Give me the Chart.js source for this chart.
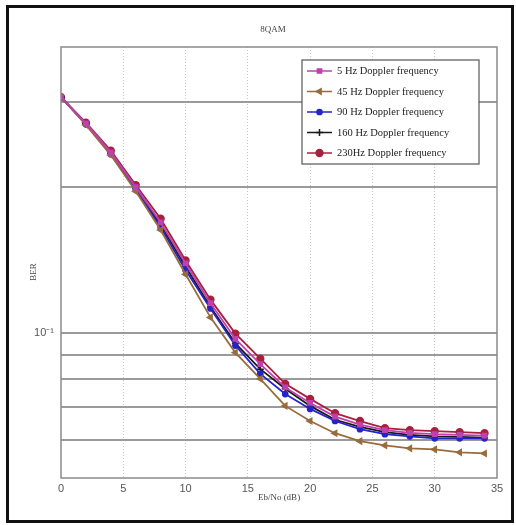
<!DOCTYPE html>
<html>
<head>
<meta charset="utf-8">
<script src="https://cdn.jsdelivr.net/npm/chart.js@4.4.1/dist/chart.umd.min.js"></script>
<style>
  body { margin: 0; background: #fff; }
  #wrap { position: relative; width: 516px; height: 525px; }
  #frame { position: absolute; left: 6px; top: 5px; width: 502px; height: 512px; border: 3px solid #111; pointer-events: none; }
  canvas { position: absolute; left: 0; top: 0; }
</style>
</head>
<body>
<div id="wrap">
  <canvas id="chart" width="516" height="525"></canvas>
  <div id="frame"></div>
</div>
<script>
// Eb/No in dB
const ebno = [0, 2, 4, 6, 8, 10, 12, 14, 16, 18, 20, 22, 24, 26, 28, 30, 32, 34];

const ber5Hz   = [0.307, 0.271, 0.236, 0.200, 0.169, 0.139, 0.115, 0.097, 0.086, 0.077, 0.0715, 0.067, 0.0645, 0.0628, 0.062, 0.0616, 0.0614, 0.0612];
const ber45Hz  = [0.307, 0.269, 0.233, 0.196, 0.163, 0.132, 0.1075, 0.0909, 0.0802, 0.0705, 0.0656, 0.0619, 0.0596, 0.0584, 0.0576, 0.0573, 0.0565, 0.0562];
const ber90Hz  = [0.307, 0.270, 0.234, 0.198, 0.165, 0.1347, 0.1122, 0.094, 0.0821, 0.0746, 0.0695, 0.0656, 0.0631, 0.0616, 0.061, 0.0604, 0.0604, 0.0604];
const ber160Hz = [0.307, 0.270, 0.235, 0.199, 0.167, 0.137, 0.113, 0.095, 0.084, 0.0765, 0.0705, 0.066, 0.0638, 0.0622, 0.0614, 0.061, 0.0608, 0.0606];
const ber230Hz = [0.307, 0.272, 0.238, 0.202, 0.172, 0.141, 0.117, 0.0995, 0.0883, 0.0783, 0.0729, 0.0681, 0.0656, 0.0634, 0.0628, 0.0625, 0.0622, 0.0619];

const seriesLabels = ['5 Hz Doppler frequency', '45 Hz Doppler frequency', '90 Hz Doppler frequency', '160 Hz Doppler frequency', '230Hz Doppler frequency'];
const xTicks = [0, 5, 10, 15, 20, 25, 30, 35];
const yGrid = [0.05, 0.06, 0.07, 0.08, 0.09, 0.1, 0.2, 0.3, 0.39];

const toPoints = (vals) => vals.map((v, i) => ({ x: ebno[i], y: v }));

const makeSet = (label, vals, color, style, rot, radius) => ({
  label: label,
  data: toPoints(vals),
  borderColor: color,
  backgroundColor: color,
  borderWidth: 1.8,
  pointStyle: style,
  pointRotation: rot,
  pointRadius: radius,
  pointBorderWidth: 1.5,
  tension: 0,
});

// legend + titles + plot box, drawn on the canvas
const extras = {
  id: 'extras',
  afterDraw(chart) {
    const ctx = chart.ctx;
    const a = chart.chartArea;
    ctx.save();
    ctx.strokeStyle = '#8a8a8a';
    ctx.lineWidth = 1.5;
    ctx.strokeRect(a.left, a.top, a.right - a.left, a.bottom - a.top);

    ctx.fillStyle = '#444';
    ctx.textAlign = 'center';
    ctx.textBaseline = 'middle';
    ctx.font = '9px "Liberation Serif", serif';
    ctx.fillText('8QAM', 273, 30);
    ctx.fillText('Eb/No (dB)', (a.left + a.right) / 2, 498);
    ctx.save();
    ctx.translate(34, 272);
    ctx.rotate(-Math.PI / 2);
    ctx.fillText('BER', 0, 0);
    ctx.restore();

    // legend box
    const lx = 302, ly = 60, lw = 177, lh = 104;
    ctx.fillStyle = '#fff';
    ctx.fillRect(lx, ly, lw, lh);
    ctx.strokeStyle = '#555';
    ctx.lineWidth = 1.2;
    ctx.strokeRect(lx, ly, lw, lh);
    ctx.font = '10.5px "Liberation Serif", serif';
    ctx.textAlign = 'left';
    chart.data.datasets.forEach((ds, i) => {
      const y = ly + 11 + i * 20.5;
      ctx.strokeStyle = ds.borderColor;
      ctx.lineWidth = 1.5;
      ctx.beginPath();
      ctx.moveTo(lx + 5, y);
      ctx.lineTo(lx + 30, y);
      ctx.stroke();
      ctx.fillStyle = ds.backgroundColor;
      Chart.helpers.drawPoint(ctx, {
        pointStyle: ds.pointStyle, rotation: ds.pointRotation,
        radius: ds.pointRadius, borderWidth: 1.5
      }, lx + 17.5, y);
      ctx.fillStyle = '#222';
      ctx.fillText(ds.label, lx + 35, y + 0.5);
    });
    ctx.restore();
  }
};

new Chart(document.getElementById('chart'), {
  type: 'line',
  data: {
    datasets: [
      makeSet(seriesLabels[0], ber5Hz, '#c040b0', 'rect', 0, 3),
      makeSet(seriesLabels[1], ber45Hz, '#9a6b3c', 'triangle', -90, 3.2),
      makeSet(seriesLabels[2], ber90Hz, '#2424c8', 'circle', 0, 2.6),
      makeSet(seriesLabels[3], ber160Hz, '#1a1a1a', 'cross', 0, 3.5),
      makeSet(seriesLabels[4], ber230Hz, '#a8203c', 'circle', 0, 3.4),
    ]
  },
  options: {
    responsive: false,
    animation: false,
    layout: { padding: { top: 47, right: 19, left: 0, bottom: 0 } },
    plugins: { legend: { display: false }, title: { display: false }, tooltip: { enabled: false } },
    scales: {
      x: {
        type: 'linear',
        min: 0,
        max: 35,
        afterBuildTicks: (s) => { s.ticks = xTicks.map(v => ({ value: v })); },
        afterFit: (s) => { s.height = 47; },
        ticks: { color: '#555', font: { size: 11, family: 'Liberation Sans' }, padding: 4, maxRotation: 0 },
        grid: {
          drawTicks: false,
          color: (c) => (c.tick.value === 0 || c.tick.value === 35) ? 'rgba(0,0,0,0)' : '#c8c8c8',
          lineWidth: 1,
        },
        border: { display: false, dash: [1, 2] },
      },
      y: {
        type: 'logarithmic',
        min: 0.05,
        max: 0.39,
        afterBuildTicks: (s) => { s.ticks = yGrid.map(v => ({ value: v })); },
        afterFit: (s) => { s.width = 61; },
        ticks: {
          color: '#555',
          font: { size: 11, family: 'Liberation Sans' },
          padding: 7,
          callback: (v) => Math.abs(v - 0.1) < 1e-9 ? '10\u207B\u00B9' : '',
        },
        grid: {
          drawTicks: false,
          color: (c) => (c.tick.value === 0.05 || c.tick.value === 0.39) ? 'rgba(0,0,0,0)' : '#9a9a9a',
          lineWidth: 2,
        },
        border: { display: false },
      }
    }
  },
  plugins: [extras]
});
</script>
</body>
</html>
